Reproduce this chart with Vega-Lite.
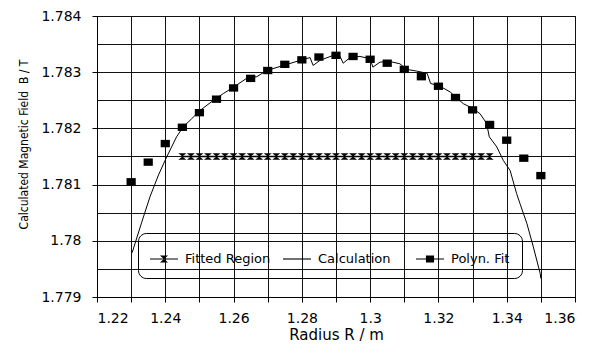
{
  "$schema": "https://vega.github.io/schema/vega-lite/v6.json",
  "width": 478,
  "height": 281,
  "autosize": {"type": "none"},
  "padding": {"left": 97, "top": 16, "right": 17, "bottom": 54},
  "background": "white",
  "config": {
    "font": "DejaVu Sans",
    "view": {"stroke": "black", "strokeWidth": 1},
    "axis": {
      "domainColor": "black",
      "tickColor": "black",
      "gridColor": "#111",
      "gridWidth": 1,
      "gridOpacity": 1,
      "labelColor": "black",
      "titleColor": "black",
      "labelFontSize": 14,
      "labelOverlap": false,
      "tickSize": 5,
      "titleFontWeight": "normal",
      "titleFontSize": 15
    }
  },
  "datasets": {
    "calc": [
      {"R": 1.2303, "B": 1.77979},
      {"R": 1.2331, "B": 1.78033},
      {"R": 1.2355, "B": 1.78078},
      {"R": 1.2380, "B": 1.78117},
      {"R": 1.2404, "B": 1.78149},
      {"R": 1.2433, "B": 1.78185},
      {"R": 1.2453, "B": 1.78203},
      {"R": 1.2477, "B": 1.78217},
      {"R": 1.2502, "B": 1.78232},
      {"R": 1.2541, "B": 1.78250},
      {"R": 1.2570, "B": 1.78262},
      {"R": 1.2599, "B": 1.78273},
      {"R": 1.2638, "B": 1.78289},
      {"R": 1.2668, "B": 1.78292},
      {"R": 1.2697, "B": 1.78303},
      {"R": 1.2746, "B": 1.78312},
      {"R": 1.2795, "B": 1.78321},
      {"R": 1.2824, "B": 1.78326},
      {"R": 1.2833, "B": 1.78312},
      {"R": 1.2853, "B": 1.78321},
      {"R": 1.2892, "B": 1.78330},
      {"R": 1.2912, "B": 1.78328},
      {"R": 1.2921, "B": 1.78316},
      {"R": 1.2941, "B": 1.78326},
      {"R": 1.2970, "B": 1.78328},
      {"R": 1.3000, "B": 1.78324},
      {"R": 1.3008, "B": 1.78309},
      {"R": 1.3029, "B": 1.78318},
      {"R": 1.3058, "B": 1.78319},
      {"R": 1.3087, "B": 1.78315},
      {"R": 1.3107, "B": 1.78305},
      {"R": 1.3136, "B": 1.78302},
      {"R": 1.3167, "B": 1.78298},
      {"R": 1.3177, "B": 1.78280},
      {"R": 1.3205, "B": 1.78275},
      {"R": 1.3234, "B": 1.78265},
      {"R": 1.3254, "B": 1.78254},
      {"R": 1.3273, "B": 1.78244},
      {"R": 1.3302, "B": 1.78235},
      {"R": 1.3322, "B": 1.78226},
      {"R": 1.3341, "B": 1.78209},
      {"R": 1.3349, "B": 1.78185},
      {"R": 1.3371, "B": 1.78167},
      {"R": 1.3390, "B": 1.78143},
      {"R": 1.3410, "B": 1.78125},
      {"R": 1.3429, "B": 1.78084},
      {"R": 1.3439, "B": 1.78066},
      {"R": 1.3459, "B": 1.78031},
      {"R": 1.3478, "B": 1.77989},
      {"R": 1.3498, "B": 1.77942},
      {"R": 1.3500, "B": 1.77933}
    ],
    "polyfit": [
      {"R": 1.230, "B": 1.78105},
      {"R": 1.235, "B": 1.78140},
      {"R": 1.240, "B": 1.78173},
      {"R": 1.245, "B": 1.78202},
      {"R": 1.250, "B": 1.78228},
      {"R": 1.255, "B": 1.78252},
      {"R": 1.260, "B": 1.78272},
      {"R": 1.265, "B": 1.78289},
      {"R": 1.270, "B": 1.78303},
      {"R": 1.275, "B": 1.78314},
      {"R": 1.280, "B": 1.78322},
      {"R": 1.285, "B": 1.78327},
      {"R": 1.290, "B": 1.78330},
      {"R": 1.295, "B": 1.78328},
      {"R": 1.300, "B": 1.78323},
      {"R": 1.305, "B": 1.78316},
      {"R": 1.310, "B": 1.78305},
      {"R": 1.315, "B": 1.78292},
      {"R": 1.320, "B": 1.78275},
      {"R": 1.325, "B": 1.78255},
      {"R": 1.330, "B": 1.78233},
      {"R": 1.335, "B": 1.78207},
      {"R": 1.340, "B": 1.78179},
      {"R": 1.345, "B": 1.78147},
      {"R": 1.350, "B": 1.78116}
    ],
    "fitted": [
      {"R": 1.2450, "B": 1.7815}, {"R": 1.2475, "B": 1.7815}, {"R": 1.2500, "B": 1.7815},
      {"R": 1.2525, "B": 1.7815}, {"R": 1.2550, "B": 1.7815}, {"R": 1.2575, "B": 1.7815},
      {"R": 1.2600, "B": 1.7815}, {"R": 1.2625, "B": 1.7815}, {"R": 1.2650, "B": 1.7815},
      {"R": 1.2675, "B": 1.7815}, {"R": 1.2700, "B": 1.7815}, {"R": 1.2725, "B": 1.7815},
      {"R": 1.2750, "B": 1.7815}, {"R": 1.2775, "B": 1.7815}, {"R": 1.2800, "B": 1.7815},
      {"R": 1.2825, "B": 1.7815}, {"R": 1.2850, "B": 1.7815}, {"R": 1.2875, "B": 1.7815},
      {"R": 1.2900, "B": 1.7815}, {"R": 1.2925, "B": 1.7815}, {"R": 1.2950, "B": 1.7815},
      {"R": 1.2975, "B": 1.7815}, {"R": 1.3000, "B": 1.7815}, {"R": 1.3025, "B": 1.7815},
      {"R": 1.3050, "B": 1.7815}, {"R": 1.3075, "B": 1.7815}, {"R": 1.3100, "B": 1.7815},
      {"R": 1.3125, "B": 1.7815}, {"R": 1.3150, "B": 1.7815}, {"R": 1.3175, "B": 1.7815},
      {"R": 1.3200, "B": 1.7815}, {"R": 1.3225, "B": 1.7815}, {"R": 1.3250, "B": 1.7815},
      {"R": 1.3275, "B": 1.7815}, {"R": 1.3300, "B": 1.7815}, {"R": 1.3325, "B": 1.7815},
      {"R": 1.3350, "B": 1.7815}
    ],
    "legend": [
      {"series": "Fitted Region", "R": 0, "B": 0},
      {"series": "Calculation", "R": 0, "B": 0},
      {"series": "Polyn. Fit", "R": 0, "B": 0}
    ]
  },
  "encoding": {
    "x": {
      "field": "R", "type": "quantitative",
      "scale": {"domain": [1.22, 1.36], "nice": false, "zero": false},
      "axis": {
        "title": "Radius R / m",
        "values": [1.22, 1.23, 1.24, 1.25, 1.26, 1.27, 1.28, 1.29, 1.3, 1.31, 1.32, 1.33, 1.34, 1.35, 1.36],
        "format": "~g",
        "labelExpr": "abs(datum.value*50 - round(datum.value*50)) < 0.01 ? datum.label : ''",
        "grid": true,
        "labelPadding": 9,
        "titlePadding": 2
      }
    },
    "y": {
      "field": "B", "type": "quantitative",
      "scale": {"domain": [1.779, 1.784], "nice": false, "zero": false},
      "axis": {
        "title": "Calculated Magnetic Field\u00a0\u00a0B / T",
        "titleFont": "Liberation Sans Narrow, DejaVu Sans Condensed, DejaVu Sans",
        "titleFontSize": 12,
        "titleX": -74,
        "titleY": 128,
        "titleAngle": 270,
        "titleAlign": "center",
        "titleBaseline": "middle",
        "values": [1.779, 1.7795, 1.78, 1.7805, 1.781, 1.7815, 1.782, 1.7825, 1.783, 1.7835, 1.784],
        "format": "~g",
        "labelExpr": "abs(datum.value*1000 - round(datum.value*1000)) < 0.01 ? datum.label : ''",
        "tickOpacity": {"condition": {"test": "abs(datum.value*1000 - round(datum.value*1000)) < 0.01", "value": 1}, "value": 0},
        "grid": true,
        "labelPadding": 11
      }
    }
  },
  "layer": [
    {
      "data": {"name": "fitted"},
      "mark": {"type": "line", "color": "black", "strokeWidth": 1.5}
    },
    {
      "data": {"name": "fitted"},
      "mark": {"type": "point", "filled": true, "color": "black", "opacity": 1, "size": 64, "shape": "M-1,-0.8H1L-1,0.8H1Z"}
    },
    {
      "data": {"name": "calc"},
      "mark": {"type": "line", "color": "black", "strokeWidth": 1}
    },
    {
      "data": {"name": "polyfit"},
      "mark": {"type": "point", "filled": true, "color": "black", "opacity": 1, "size": 85, "shape": "M-1,-0.8H1V0.8H-1Z"}
    },
    {
      "data": {"name": "legend"},
      "mark": {"type": "point", "filled": true, "color": "black", "opacity": 1, "size": 784, "clip": true},
      "encoding": {
        "shape": {
          "field": "series", "type": "nominal",
          "scale": {
            "domain": ["Fitted Region", "Calculation", "Polyn. Fit"],
            "range": [
              "M-1,-0.04H1V0.04H-1Z M-0.29,-0.25H0.29L-0.29,0.25H0.29Z",
              "M-1,-0.04H1V0.04H-1Z",
              "M-1,-0.04H1V0.04H-1Z M-0.29,-0.25H0.29V0.25H-0.29Z"
            ]
          },
          "legend": {
            "title": null,
            "orient": "none",
            "legendX": 41,
            "legendY": 217,
            "direction": "horizontal",
            "columns": 3,
            "gridAlign": "all",
            "columnPadding": 12,
            "padding": 12,
            "strokeColor": "black",
            "cornerRadius": 8,
            "labelFontSize": 13,
            "labelColor": "black",
            "labelOffset": 7,
            "symbolSize": 784,
            "symbolFillColor": "black",
            "symbolStrokeWidth": 0
          }
        }
      }
    }
  ]
}
